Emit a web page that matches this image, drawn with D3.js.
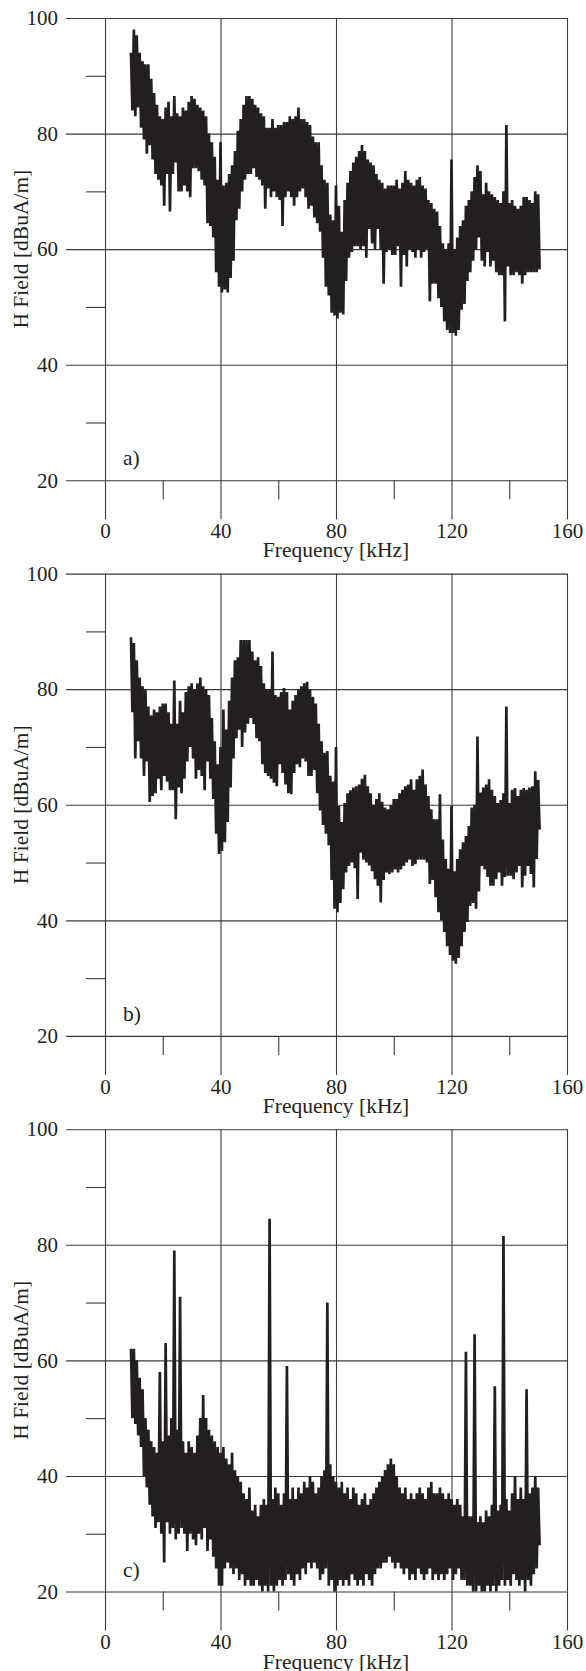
<!DOCTYPE html>
<html>
<head>
<meta charset="utf-8">
<script src="https://cdn.jsdelivr.net/npm/d3@7"></script>
<style>
  body { margin: 0; background: #fff; }
  svg { display: block; }
  svg text { font-family: "Liberation Serif", "DejaVu Serif", "Times New Roman", serif; }
</style>
</head>
<body>
<svg id="chart" width="586" height="1671"></svg>
<script>
// Frequency grid of the spectrum, kHz
const freqKHz = [
  9,10,11,12,13,14,15,16,17,18,19,20,21,22,23,24,25,26,27,28,29,
  30,31,32,33,34,35,36,37,38,39,40,41,42,43,44,45,46,47,48,49,
  50,51,52,53,54,55,56,57,58,59,60,61,62,63,64,65,66,67,68,69,
  70,71,72,73,74,75,76,77,78,79,80,81,82,83,84,85,86,87,88,89,
  90,91,92,93,94,95,96,97,98,99,100,101,102,103,104,105,106,107,108,109,
  110,111,112,113,114,115,116,117,118,119,120,121,122,123,124,125,126,127,128,129,
  130,131,132,133,134,135,136,137,138,139,140,141,142,143,144,145,146,147,148,149,150
];

// a) upper / lower excursion of the H field in each 1 kHz bin, dBuA/m
const peakA = [
  94,98,97,94,92.5,92,92,89.5,87,85,83,82.5,84.5,85.5,83,86.5,83.5,83,84.5,84,85.5,
  86.5,86,85,84.5,84,83,80,78.5,76,72,78.5,71,71.5,73,74.5,77,80.5,82.5,85,86.5,
  86.5,86,85,84.5,83.5,83,81,81,82.5,81,81.5,81.5,82,82,83,82.5,83,84.5,82.5,82.5,
  82,81.5,79.5,78.5,78.5,74.5,72,71.5,66,65,71,67.5,63,68.5,71.5,73.5,75,76,77,78,
  77,75.5,75,74.5,73,72,71.5,70.5,71,71,71,72,70.5,71.5,73.5,72,71.5,71,72,72.5,
  71,70.5,68.5,68,67,66.5,64,61,60,61,75.5,60,62,64,65,67.5,68.5,70,72.5,74.5,
  73.5,69.5,71.5,70,69.5,69,68.5,68,70,81.5,68,68.5,67.5,67,67.5,69,69,68.5,68,70,69.5
];
const troughA = [
  84,83,84.5,81,79,76.5,78,75.5,73,72,71,67.5,73,66.5,73,75,70,70,71,70,69,
  74,74,73.5,72,71,64.5,64,62,56,53.5,52.5,53,52.5,55,58,65,67,70,72,73,
  73,74,72.5,72,71,67,70.5,69,70,69,68.5,64,69,70,69,67.5,69,70,70.5,69,
  67,67.5,65.5,64.5,63,58.5,53.5,52,49,48.5,48,49,48.7,54.5,58.5,59.5,60.5,60.5,60,60.5,
  58.5,63.5,61,60,63.5,60,54,59.5,60,59,59,60.5,53.5,59,57,60,59.5,58.5,60,58.5,
  59.5,60,51,54,54,51.5,50,47.5,46,45.5,45.5,45,46,49.5,50.5,54.5,56,58,60,62,
  58,57,59.5,57,58,56,55.5,55.5,47.5,57,55.5,55.5,56,55.5,54,55.5,56,56,56,56,56.5
];

// b)
const peakB = [
  89,88,85,82,80.5,80,77,75.5,76.5,76,77,77.5,77.5,76,74,81.5,74,78,76,79.5,80.5,
  81,80,81,82,80.5,80,79,75,71,67,70,76.5,73,78,82,85,85.5,88.5,88.5,88.5,
  88.5,86.5,85,85.5,84,81,80,80,86.5,79,78.7,79.5,80.2,79.5,76.5,78,79,80,80.5,81,
  81.3,80,78.7,77.5,74,71,69,69.3,65,64,70,59.8,57,60.3,62,62.5,63,63.2,63.5,64.5,
  65.2,63.2,62,60,61,62,60.5,59.5,59.2,60,61,61,62,62.6,63.2,63.5,64.4,62.6,64.4,65,
  66.1,63.5,61.5,59.2,57.5,57.5,61.8,54,50.6,48.9,59.8,48.5,50.6,52.3,53.5,54.6,56.3,59.5,60,71.8,
  62.1,63,63.5,64.4,62.6,61.5,60.3,60.8,62,77,60.3,62.6,62.9,61.5,62.6,62.9,62.6,63,63.2,65.8,64.3
];
const troughB = [
  76,68,71,68,65,67.5,60.5,61.5,62,64.5,62.5,65,64,62.5,62.5,57.5,63,62,64.5,67.5,70,
  68,64.5,66,65,62.5,67.5,64.5,61,55,51.5,52,53.5,57,63,68,71.5,73,70,72.5,74,
  75,74,71.5,71,67,65.5,65,64.5,63.8,63.2,67,65.5,63.5,62,61.8,65.5,67,66.5,68,67.5,
  65,65,66,62,59,56.5,55,53,47,42,41.4,43,45.4,48.3,49.4,50,49,43.7,51.7,50.5,
  50,49.5,48.5,47.1,46,43.1,47,48.3,48,48.3,48.8,48.3,48.8,49.4,50,50.5,49.4,49.7,50.5,50.5,
  50.5,50,46.3,47,44,41.4,40,38,35.5,34,33,32.5,33.5,35.5,38,39.7,42.5,43,42,45,
  49.4,48.8,47.5,46,46,47.1,48.3,46,47.5,47.7,47.7,47.1,48.3,49.4,45.7,47.7,49.4,48,45.7,50.6,55.7
];

// c)
const peakC = [
  62,62,60,57,55,50,48,46,45,44,58,46,63,47,50,79,48,71,46,44,46,
  45,44,47,50,54,50,48,47,46,45,44,45,43,42,44,41,40,39,37,36,
  38,34,35,33,35,36,35,84.5,36,38,37,35,37,59,36,38,36,38,37,39,
  38,40,39,37,38,40,41,70,42,40,39,38,39,37,38,36,38,37,35,36,
  37,35,36,37,38,39,40,41,42,43,42,40,38,37,38,36,37,36,37,38,
  37,36,38,39,37,37,38,37,36,37,36,35,36,35,33,61.5,33,33,64.5,32,
  33,32,34,33,35,55.5,34,35,81.5,36,34,37,40,36,38,36,55,37,38,40,38
];
const troughC = [
  50,49,47,45,40,38,35,33,31,32,30,25,32,30,31,29,30,31,30,27,30,
  29,28,30,29,31,27,29,26,24,21,21,24,25,24,23,24,22,23,21,22,
  21,21,22,21,20,21,20,21,20,21,22,21,22,23,22,21,23,22,24,23,
  25,24,25,24,22,23,24,21,22,20,21,22,21,22,21,23,22,21,22,21,
  23,22,21,23,24,24,25,25,26,25,24,25,24,23,24,22,23,22,24,23,
  22,23,24,22,23,22,23,22,23,24,22,23,24,22,22,21,21,20,20,21,
  20,20,21,20,21,20,21,22,21,22,21,23,22,21,22,20,22,21,23,24,28
];

const panelTags = ["a)", "b)", "c)"];
const xMajorTicks = [0, 40, 80, 120, 160];
const xMinorTicks = [20, 60, 100, 140];
const yMajorTicks = [20, 40, 60, 80, 100];
const yMinorTicks = [30, 50, 70, 90];
const xTitle = "Frequency [kHz]";
const yTitle = "H Field [dBuA/m]";

const panels = [
  { tag: panelTags[0], peak: peakA, trough: troughA },
  { tag: panelTags[1], peak: peakB, trough: troughB },
  { tag: panelTags[2], peak: peakC, trough: troughC }
];

// ---- layout ----
const FONT = '"Liberation Serif", "DejaVu Serif", "Times New Roman", serif';
const INK = "#231f20";
const GRID = "#3a3a3a";
const plotLeft = 105, plotRight = 567, plotH = 462.3;
const panelStep = 555.6, firstTop = 18;
const majorLen = 39, minorLen = 19;

const svg = d3.select("#chart");
const x = d3.scaleLinear().domain([0, 160]).range([plotLeft, plotRight]);

function styleAxis(g) {
  g.select(".domain").remove();
  g.selectAll("line").attr("stroke", GRID).attr("stroke-width", 1.1);
  g.attr("font-family", null).attr("font-size", null)
   .style("font-family", FONT).style("font-size", "21px");
  g.selectAll("text").attr("fill", INK);
}

function addText(g, txt, size) {
  return g.append("text")
    .style("font-family", FONT)
    .style("font-size", size + "px")
    .attr("fill", INK)
    .text(txt);
}

panels.forEach((p, k) => {
  const top = firstTop + k * panelStep;
  const bottom = top + plotH;
  const y = d3.scaleLinear().domain([20, 100]).range([bottom, top]);
  const g = svg.append("g").attr("class", "panel");

  // horizontal grid across the plot
  g.append("g")
    .attr("transform", `translate(${plotLeft},0)`)
    .call(d3.axisLeft(y).tickValues(yMajorTicks).tickSize(-(plotRight - plotLeft)).tickFormat(""))
    .call(styleAxis);
  // major y ticks reaching out to the labels
  g.append("g")
    .attr("transform", `translate(${plotLeft},0)`)
    .call(d3.axisLeft(y).tickValues(yMajorTicks).tickSize(majorLen).tickPadding(8))
    .call(styleAxis);
  // minor y ticks
  g.append("g")
    .attr("transform", `translate(${plotLeft},0)`)
    .call(d3.axisLeft(y).tickValues(yMinorTicks).tickSize(minorLen).tickFormat(""))
    .call(styleAxis);

  // vertical grid across the plot
  g.append("g")
    .attr("transform", `translate(0,${bottom})`)
    .call(d3.axisBottom(x).tickValues(xMajorTicks).tickSize(-plotH).tickFormat(""))
    .call(styleAxis);
  // major x ticks below the plot with labels
  g.append("g")
    .attr("transform", `translate(0,${bottom})`)
    .call(d3.axisBottom(x).tickValues(xMajorTicks).tickSize(majorLen).tickPadding(4))
    .call(styleAxis);
  // minor x ticks
  g.append("g")
    .attr("transform", `translate(0,${bottom})`)
    .call(d3.axisBottom(x).tickValues(xMinorTicks).tickSize(minorLen).tickFormat(""))
    .call(styleAxis);

  // spectrum trace: each bin swings from its peak to its trough
  const pts = [];
  freqKHz.forEach((f, i) => {
    pts.push([f, p.peak[i]]);
    pts.push([f + 0.5, p.trough[i]]);
  });
  const line = d3.line().x(d => x(d[0])).y(d => y(d[1]));
  g.append("path")
    .datum(pts)
    .attr("d", line)
    .attr("fill", "none")
    .attr("stroke", INK)
    .attr("stroke-width", 2.7)
    .attr("stroke-linejoin", "bevel");

  // panel tag
  addText(g, p.tag, 21.5).attr("x", 123).attr("y", bottom - 15);

  // axis titles
  addText(g, xTitle, 21.5)
    .attr("x", (plotLeft + plotRight) / 2).attr("y", bottom + 77)
    .attr("text-anchor", "middle");
  addText(g, yTitle, 21.5)
    .attr("transform", `translate(28,${(top + bottom) / 2}) rotate(-90)`)
    .attr("text-anchor", "middle");
});
</script>
</body>
</html>
